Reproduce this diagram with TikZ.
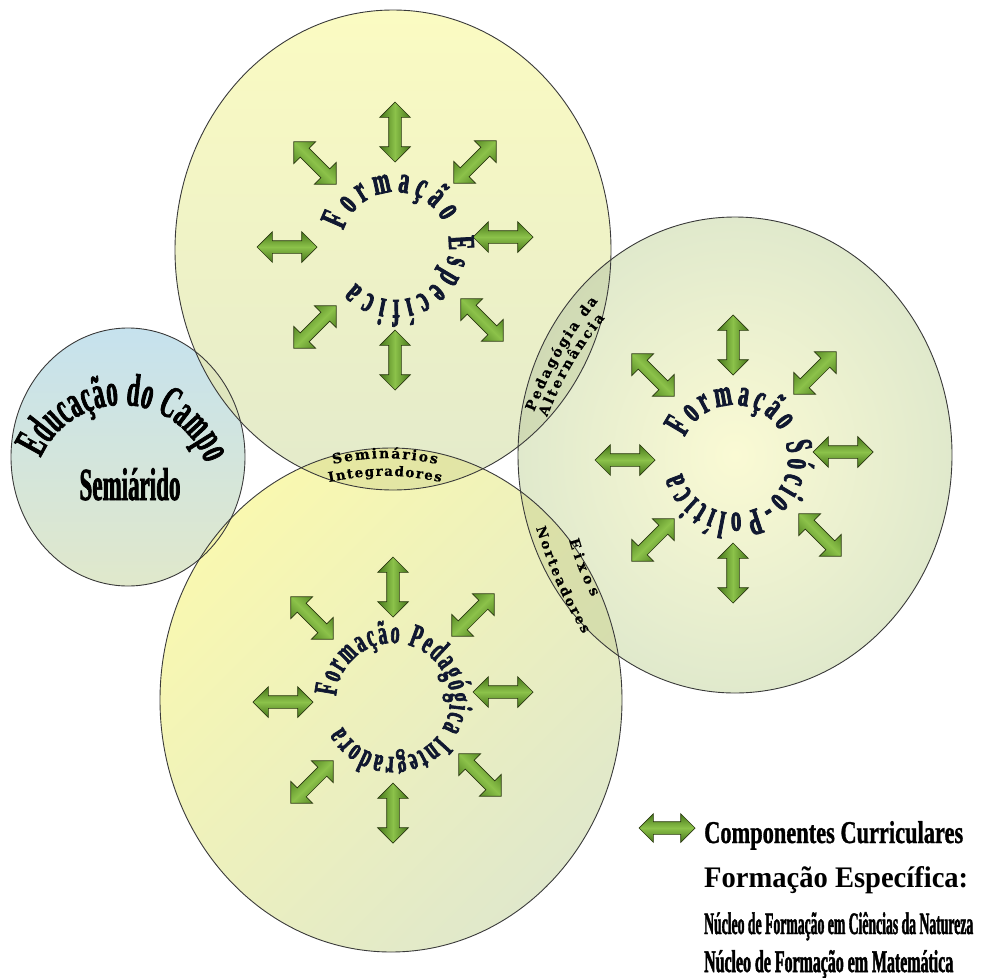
\documentclass[tikz,border=0pt]{standalone}
\usepackage{fontspec}
\usepackage{graphicx}
\setmainfont{Liberation Serif}
\newfontface\cndb[FakeStretch=0.55, FakeBold=2]{Liberation Serif Bold}
\newfontface\xcndb[FakeStretch=0.5, FakeBold=1.5]{Liberation Serif Bold}
\newfontface\mcndb[FakeStretch=0.75, FakeBold=1]{Liberation Serif Bold}
\newfontface\srfb[FakeStretch=0.95]{Liberation Serif Bold}
\newfontface\lensfont[FakeBold=0.5]{DejaVu Serif Bold}
\usetikzlibrary{shapes.arrows,decorations.text}

\definecolor{outl}{HTML}{3A3A3A}
\definecolor{topA}{HTML}{FBFBC2}
\definecolor{topB}{HTML}{E3EACB}
\definecolor{rightA}{HTML}{FAFAD4}
\definecolor{rightB}{HTML}{E0E9CC}
\definecolor{botA}{HTML}{F9F8B0}
\definecolor{botB}{HTML}{E0E8CB}
\definecolor{smA}{HTML}{C6E2EE}
\definecolor{smB}{HTML}{E0E8CB}
\definecolor{lens}{HTML}{7E9040}
\definecolor{arrdark}{HTML}{46761A}
\definecolor{arrlight}{HTML}{8CC24A}
\definecolor{arrline}{HTML}{2A3810}
\definecolor{navy}{HTML}{101830}

\tikzset{
  circline/.style={draw=outl, line width=0.9pt},
  lenstint/.style={fill=lens, fill opacity=#1},
  carrow/.style={double arrow, draw=arrline, line width=0.7pt,
    minimum height=60pt, minimum width=0pt, inner xsep=0pt, inner ysep=6pt,
    double arrow head extend=9pt, double arrow tip angle=90,
    top color=arrdark, bottom color=arrdark,
    middle color=arrlight, shading angle=#1, rotate=#1},
  circtext/.style 2 args={decorate, decoration={text along path,
    text={|\fontsize{#1}{#1}\cndb|#2}, text align={fit to path},
    text color=navy}},
  lenstext/.style 2 args={decorate, decoration={text along path,
    text={|\fontsize{#1}{#1}\lensfont|#2}, text align={fit to path},
    text color=black}},
  legtext/.style={anchor=base west, inner sep=0pt}
}

\begin{document}
\begin{tikzpicture}[x=1pt,y=1pt]
\useasboundingbox (0,0) rectangle (987,-977);

\coordinate (cS) at (128,-457);
\coordinate (cT) at (393,-250);
\coordinate (cR) at (735,-455);
\coordinate (cB) at (391,-700);

% fills
\shade[top color=smA, bottom color=smB] (cS) ellipse [x radius=117, y radius=129];
\shade[top color=topA, bottom color=topB] (cT) ellipse [x radius=218, y radius=240];
\shade[inner color=rightA, outer color=rightB] (cR) ellipse [x radius=217, y radius=238];
\shade[top color=botA, bottom color=botB, shading angle=45] (cB) ellipse [x radius=231, y radius=252];

% overlaps
\begin{scope}
  \clip (cT) ellipse [x radius=218, y radius=240];
  \fill[lenstint=0.16] (cR) ellipse [x radius=217, y radius=238];
  \fill[lenstint=0.14] (cB) ellipse [x radius=231, y radius=252];
  \fill[lenstint=0.08] (cS) ellipse [x radius=117, y radius=129];
\end{scope}
\begin{scope}
  \clip (cB) ellipse [x radius=231, y radius=252];
  \fill[lenstint=0.16] (cR) ellipse [x radius=217, y radius=238];
  \fill[lenstint=0.05] (cS) ellipse [x radius=117, y radius=129];
\end{scope}

% outlines
\draw[circline] (cS) ellipse [x radius=117, y radius=129];
\draw[circline] (cT) ellipse [x radius=218, y radius=240];
\draw[circline] (cR) ellipse [x radius=217, y radius=238];
\draw[circline] (cB) ellipse [x radius=231, y radius=252];

% arrows top circle
\node[carrow=90]  (T1) at (395,-132) {};
\node[carrow=45]  (T2) at (475,-162) {};
\node[carrow=0]   (T3) at (503,-237) {};
\node[carrow=-45] (T4) at (482,-320) {};
\node[carrow=90]  (T5) at (395,-360) {};
\node[carrow=45]  (T6) at (315,-327) {};
\node[carrow=0]   (T7) at (287,-247) {};
\node[carrow=-45] (T8) at (315,-163) {};

% arrows right circle
\node[carrow=90]  (R1) at (733,-345) {};
\node[carrow=45]  (R2) at (815,-373) {};
\node[carrow=0]   (R3) at (843,-452) {};
\node[carrow=-45] (R4) at (820,-535) {};
\node[carrow=90]  (R5) at (733,-573) {};
\node[carrow=45]  (R6) at (653,-540) {};
\node[carrow=0]   (R7) at (625,-460) {};
\node[carrow=-45] (R8) at (653,-375) {};

% arrows bottom circle
\node[carrow=90]  (B1) at (393,-587) {};
\node[carrow=45]  (B2) at (473,-615) {};
\node[carrow=0]   (B3) at (503,-692) {};
\node[carrow=-45] (B4) at (480,-775) {};
\node[carrow=90]  (B5) at (393,-813) {};
\node[carrow=45]  (B6) at (312,-782) {};
\node[carrow=0]   (B7) at (283,-702) {};
\node[carrow=-45] (B8) at (312,-618) {};

% circular texts
\path[circtext={38}{Formação Específica}]
  ([shift={(163:54)}]395,-246) arc[start angle=163, end angle=-137, radius=54];
\path[circtext={38}{Formação Sócio-Política}]
  ([shift={(156:54)}]734,-459) arc[start angle=156, end angle=-165, radius=54];
\path[circtext={33}{Formação Pedagógica Integradora}]
  ([shift={(176:57)}]393,-700) arc[start angle=176, end angle=-152, radius=57];

% small circle
\path[decorate, decoration={text along path,
    text={|\fontsize{46}{46}\xcndb|Educação do Campo}, text align={fit to path},
    text color=black}]
  ([shift={(156:89)}]122,-494) arc[start angle=156, end angle=20, radius=89];
\node[anchor=base, inner sep=0pt] (semi) at (130,-500) {\fontsize{46}{46}\xcndb Semiárido};

% lens labels
\path[lenstext={14}{Seminários}] (333,-464) to[bend left=11] (437,-464);
\path[lenstext={13.5}{Integradores}] (329,-482) to[bend left=11] (441,-482);
\path[lenstext={14}{Pedagógia da}] (534,-412) to[bend left=8] (598,-301);
\path[lenstext={14}{Alternância}] (547,-417) to[bend left=8] (605,-318);
\path[lenstext={14}{Eixos}] (569,-540) to[bend right=6] (592,-597);
\path[lenstext={13.5}{Norteadores}] (536,-528) to[bend right=6] (583,-634);

% legend
\node[carrow=0, minimum height=56pt, double arrow head extend=8pt] (legA) at (667,-828) {};
\node[legtext] (leg1) at (704,-843) {\resizebox{259pt}{22pt}{\fontsize{30}{30}\mcndb Componentes Curriculares}};
\node[legtext] (leg2) at (704,-887) {\resizebox{264pt}{21pt}{\fontsize{29}{29}\srfb Formação Específica:}};
\node[legtext] (leg3) at (704,-934) {\resizebox{269pt}{22pt}{\fontsize{28}{28}\xcndb Núcleo de Formação em Ciências da Natureza}};
\node[legtext] (leg4) at (704,-972) {\resizebox{249pt}{22pt}{\fontsize{28}{28}\xcndb Núcleo de Formação em Matemática}};
\end{tikzpicture}
\end{document}
